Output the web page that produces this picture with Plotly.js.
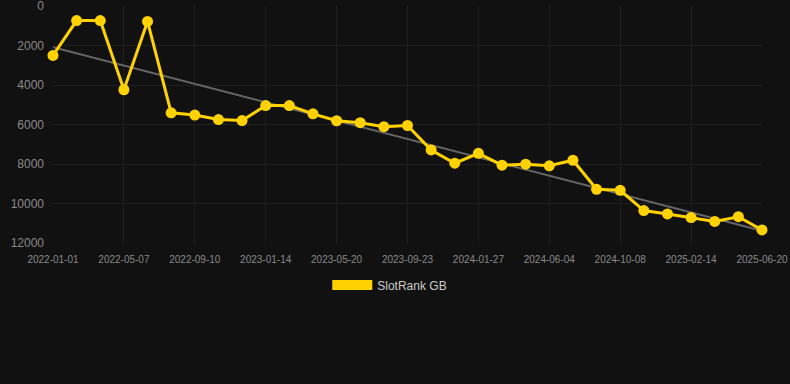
<!DOCTYPE html>
<html>
<head>
<meta charset="utf-8">
<script src="https://cdn.plot.ly/plotly-3.0.1.min.js"></script>
<style>html,body{margin:0;padding:0;background:#111111;}#chart{width:790px;height:384px;}</style>
</head>
<body>
<div id="chart"></div>
<script>
// Data (one point every ~6 weeks)
const dates = [
  "2022-01-01","2022-02-12","2022-03-26","2022-05-07","2022-06-18","2022-07-30",
  "2022-09-10","2022-10-22","2022-12-03","2023-01-14","2023-02-25","2023-04-08",
  "2023-05-20","2023-07-01","2023-08-12","2023-09-23","2023-11-04","2023-12-16",
  "2024-01-27","2024-03-09","2024-04-21","2024-06-04","2024-07-16","2024-08-27",
  "2024-10-08","2024-11-19","2025-01-03","2025-02-14","2025-03-28","2025-05-09",
  "2025-06-20"
];
const ranks = [
  2500, 740, 740, 4240, 780, 5410,
  5520, 5750, 5800, 5040, 5040, 5460,
  5810, 5910, 6110, 6050, 7290, 7960,
  7460, 8060, 8010, 8090, 7810, 9280,
  9330, 10360, 10530, 10710, 10910, 10670,
  11340
];
const tickDates = ["2022-01-01","2022-05-07","2022-09-10","2023-01-14","2023-05-20","2023-09-23","2024-01-27","2024-06-04","2024-10-08","2025-02-14","2025-06-20"];
const rankTicks = [0, 2000, 4000, 6000, 8000, 10000, 12000];
const seriesName = "SlotRank GB";

// linear trend (least squares over point index)
const n = ranks.length;
let sx=0, sy=0, sxx=0, sxy=0;
for (let i=0;i<n;i++){ sx+=i; sy+=ranks[i]; sxx+=i*i; sxy+=i*ranks[i]; }
const slope = (n*sxy - sx*sy)/(n*sxx - sx*sx);
const icpt = (sy - slope*sx)/n;
const trend = ranks.map((_,i)=>icpt+slope*i);

const gold = "#FFD200";
const traces = [
  {x: dates, y: trend, type: "scatter", mode: "lines", line: {color: "#666666", width: 2}, hoverinfo: "skip", showlegend: false},
  {x: dates, y: ranks, type: "scatter", mode: "lines+markers", name: seriesName,
   line: {color: gold, width: 3}, marker: {color: gold, size: 11}, cliponaxis: false, showlegend: false},
  {x: [null], y: [null], type: "scatter", mode: "lines", name: seriesName, line: {color: gold, width: 12}, showlegend: true}
];
const layout = {
  width: 790, height: 384,
  paper_bgcolor: "#111111", plot_bgcolor: "#111111",
  margin: {l: 53, r: 28, t: 6, b: 141},
  font: {family: "Liberation Sans, Arial, sans-serif", color: "#888888"},
  xaxis: {type: "category", range: [0, n-1], tickmode: "array", tickvals: tickDates, ticktext: tickDates,
    showgrid: true, gridcolor: "#1f1f1f", gridwidth: 1, zeroline: false, showline: false,
    tickfont: {size: 10, color: "#8a8a8a"}, ticks: "", ticklabelstandoff: 9, ticklabeloverflow: "allow"},
  yaxis: {range: [12000, 0], tickmode: "array", tickvals: rankTicks, ticktext: rankTicks.map(String),
    showgrid: true, gridcolor: "#1f1f1f", gridwidth: 1, zeroline: false, showline: false,
    tickfont: {size: 12, color: "#8a8a8a"}, ticks: "", ticklabelstandoff: 8, ticklabeloverflow: "allow"},
  showlegend: true,
  legend: {orientation: "h", x: 0.475, xanchor: "center", y: -0.177, yanchor: "middle",
    font: {size: 12, color: "#cccccc"}, itemwidth: 40, bgcolor: "rgba(0,0,0,0)"},
  hovermode: false
};
Plotly.newPlot("chart", traces, layout, {displayModeBar: false, staticPlot: true});
</script>
</body>
</html>
